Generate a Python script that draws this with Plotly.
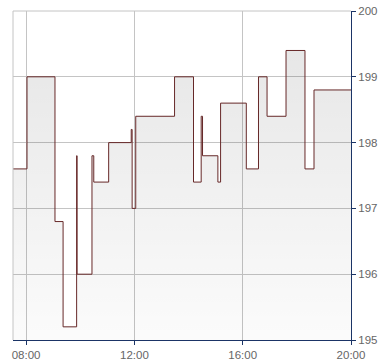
import plotly.graph_objects as go

day = "2024-01-01 "
times = ["07:31", "08:02", "09:04", "09:22", "09:52", "09:53", "10:26", "10:30",
         "11:03", "11:53", "11:55", "12:03", "13:29", "14:11", "14:28", "14:31",
         "15:05", "15:11", "16:08", "16:35", "16:54", "17:36", "18:18", "18:38", "20:00"]
values = [197.6, 199.0, 196.8, 195.2, 197.8, 196.0, 197.8, 197.4,
          198.0, 198.2, 197.0, 198.4, 199.0, 197.4, 198.4, 197.8,
          197.4, 198.6, 197.6, 199.0, 198.4, 199.4, 197.6, 198.8, 198.8]
y_ticks = [195, 196, 197, 198, 199, 200]
x_ticks = ["08:00", "12:00", "16:00", "20:00"]

xs = [day + t for t in times]
base = [195] * len(xs)

fig = go.Figure()
fig.add_trace(go.Scatter(x=xs, y=base, mode="lines", line=dict(width=0, shape="hv"),
                         hoverinfo="skip", showlegend=False))
fig.add_trace(go.Scatter(
    x=xs, y=values, mode="lines", line=dict(color="#662828", width=1, shape="hv"),
    fill="tonexty",
    fillgradient=dict(type="vertical",
                      colorscale=[[0, "rgba(0,0,0,0.015)"], [1, "rgba(0,0,0,0.095)"]]),
    showlegend=False))

grid = "#c4c4c4"
axis_blue = "#1b3466"
fig.update_layout(
    width=390, height=364,
    margin=dict(l=13, r=39, t=11, b=24, autoexpand=False),
    paper_bgcolor="white", plot_bgcolor="white",
    font=dict(family="Liberation Sans, Arial, sans-serif", size=11, color="#666666"),
    xaxis=dict(
        type="date", automargin=False,
        range=[day + "07:31", day + "20:00"],
        tickvals=[day + t for t in x_ticks], ticktext=x_ticks,
        showgrid=True, gridcolor=grid, gridwidth=1,
        showline=True, linecolor=axis_blue, linewidth=1,
        ticks="outside", ticklen=4, tickcolor=axis_blue,
        zeroline=False, tickfont=dict(size=11.5, color="#666666"),
    ),
    yaxis=dict(
        range=[195, 200], side="right", automargin=False,
        tickvals=y_ticks, ticktext=[str(v) for v in y_ticks],
        showgrid=True, gridcolor=grid, gridwidth=1,
        showline=True, linecolor=axis_blue, linewidth=1,
        ticks="outside", ticklen=4, tickcolor=axis_blue,
        zeroline=False, tickfont=dict(size=11.5, color="#666666"),
    ),
    shapes=[
        dict(type="line", xref="paper", yref="paper", x0=0, x1=0, y0=0, y1=1,
             line=dict(color=grid, width=1)),
        dict(type="line", xref="paper", yref="paper", x0=0, x1=1, y0=1, y1=1,
             line=dict(color=grid, width=1)),
    ],
)

fig.write_html("out.html")
